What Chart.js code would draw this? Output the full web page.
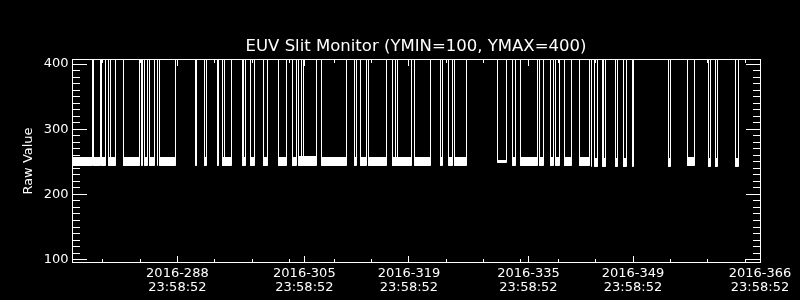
<!DOCTYPE html>
<html><head><meta charset="utf-8">
<script src="https://cdn.jsdelivr.net/npm/chart.js@4.4.1/dist/chart.umd.min.js"></script>
<style>html,body{margin:0;padding:0;background:#000;overflow:hidden}#wrap{width:800px;height:300px}canvas{display:block;background:#000}</style>
</head><body><div id="wrap"><canvas id="c" width="800" height="300"></canvas></div>
<script>
const TITLE = 'EUV Slit Monitor (YMIN=100, YMAX=400)';
const Y_TITLE = 'Raw Value';
const xMajorDays = [288, 305, 319, 335, 349, 366];
const xMajorDate = ['2016-288', '2016-305', '2016-319', '2016-335', '2016-349', '2016-366'];
const xMajorTime = ['23:58:52', '23:58:52', '23:58:52', '23:58:52', '23:58:52', '23:58:52'];
const xMinorDays = [278, 283, 293, 298, 303, 309, 314, 324, 329, 334, 339, 344, 354, 359, 364];
const yMajor = [100, 200, 300, 400];
const yMinorStep = 10;
const xRange = [273.89, 366.0];
const yRange = [94.8, 407.7];

// periods when the reading sits in the ~250 band (day of year 2016)
const lowStart = [273.89, 276.79, 277.90, 278.84, 280.85, 283.18, 283.66, 284.20, 285.54, 290.36,
  291.66, 293.36, 294.02, 296.78, 297.85, 299.55, 301.60, 303.40, 304.24, 307.23,
  311.70, 312.58, 313.61, 316.83, 319.81, 323.16, 324.23, 325.13, 330.79, 332.80,
  333.87, 336.47, 337.98, 338.61, 339.76, 341.77, 343.87, 344.85, 346.59, 347.66,
  348.87, 353.78, 356.32, 359.13, 360.03, 362.75];
const lowEnd = [276.57, 277.69, 278.31, 279.78, 282.99, 283.39, 283.98, 285.00, 287.68, 290.62,
  291.96, 293.57, 295.18, 297.14, 298.31, 300.00, 302.67, 304.01, 306.56, 310.63,
  311.97, 313.30, 316.02, 319.28, 321.82, 323.52, 324.86, 326.73, 332.09, 333.20,
  336.15, 336.95, 338.29, 339.14, 340.83, 343.20, 344.18, 345.30, 346.86, 348.12,
  349.09, 354.01, 357.17, 359.36, 360.34, 363.15];
const bandTop = [257, 257, 257, 257, 257, 256, 256, 257, 257, 256, 256, 256, 257, 256, 256, 256, 257, 257, 258, 257,
  256, 256, 257, 257, 257, 256, 257, 257, 252, 256, 257, 256, 256, 256, 257, 257, 255, 255, 255, 255,
  255, 255, 256, 255, 255, 255];
const bandBottom = [245, 245, 245, 245, 244, 245, 245, 245, 244, 244, 244, 245, 245, 245, 245, 245, 245, 245, 245, 245,
  245, 245, 245, 245, 245, 244, 244, 245, 249, 245, 245, 244, 244, 244, 245, 245, 243, 243, 243, 243,
  243, 243, 244, 243, 243, 243];
// brief single-sample excursions
const spikeDay = [279.03, 285.27, 294.24, 296.88, 304.55, 304.82, 317.19, 317.45, 343.38, 345.08];
const HIGH = 450;      // off-scale reading (above plot top)
const lastDay = 366.0;

const upper = [], lower = [];
function add(x, u, l) { upper.push({x: x, y: u}); lower.push({x: x, y: l}); }
let s = 0;
for (let i = 0; i < lowStart.length; i++) {
  const t = bandTop[i], b = bandBottom[i];
  while (s < spikeDay.length && spikeDay[s] < lowStart[i]) {
    const d = spikeDay[s++]; add(d, HIGH, HIGH); add(d, t, b); add(d, HIGH, HIGH);
  }
  if (i > 0) add(lowStart[i], HIGH, HIGH);
  add(lowStart[i], t, b);
  while (s < spikeDay.length && spikeDay[s] < lowEnd[i]) {
    const d = spikeDay[s++]; add(d, t, b); add(d, HIGH, HIGH); add(d, t, b);
  }
  add(lowEnd[i], t, b);
  add(lowEnd[i], HIGH, HIGH);
}
add(lastDay, HIGH, HIGH);

const FONT = 'DejaVu Sans';

const snapPlugin = {
  id: 'snap',
  afterDatasetsUpdate(chart) {
    chart.data.datasets.forEach((d, i) => {
      const meta = chart.getDatasetMeta(i);
      meta.data.forEach(p => { p.x = Math.floor(p.x) + 0.5; p.y = Math.floor(p.y) + 0.5; });
      if (meta.dataset) meta.dataset._path = undefined;
    });
  }
};

const framePlugin = {
  id: 'frame',
  afterDraw(chart) {
    const ctx = chart.ctx;
    const {left, right, top, bottom} = chart.chartArea;
    const xs = chart.scales.x, ys = chart.scales.y;
    const L = Math.round(left), R = Math.round(right), T = Math.round(top), B = Math.round(bottom) - 1;
    ctx.save();
    ctx.fillStyle = '#fff';
    ctx.fillRect(L, T, R - L + 1, 1);
    ctx.fillRect(L, B, R - L + 1, 1);
    ctx.fillRect(L, T, 1, B - T + 1);
    ctx.fillRect(R, T, 1, B - T + 1);
    const xt = (v, len) => {
      const px = Math.floor(xs.getPixelForValue(v));
      ctx.fillRect(px, B - len, 1, len);
      ctx.fillRect(px, T + 1, 1, len);
    };
    xMajorDays.forEach(v => xt(v, 6));
    xMinorDays.forEach(v => xt(v, 3));
    const yt = (v, len) => {
      const py = Math.floor(ys.getPixelForValue(v));
      ctx.fillRect(L + 1, py, len, 1);
      ctx.fillRect(R - len, py, len, 1);
    };
    for (let v = yMajor[0]; v <= yMajor[yMajor.length - 1]; v += yMinorStep) {
      if (yMajor.indexOf(v) < 0) yt(v, 7);
    }
    yMajor.forEach(v => yt(v, 14));
    // title centred over the plot area
    ctx.font = 'normal 16.5px "' + FONT + '"';
    ctx.textAlign = 'center';
    ctx.textBaseline = 'middle';
    ctx.fillText(TITLE, (left + right) / 2, 47);
    ctx.restore();
  }
};

Chart.defaults.color = '#fff';
new Chart(document.getElementById('c'), {
  type: 'line',
  data: {
    datasets: [
      {label: 'upper', data: upper, borderColor: '#fff', borderWidth: 1, pointRadius: 0, tension: 0,
        fill: '+1', backgroundColor: '#fff', clip: 0},
      {label: 'lower', data: lower, borderColor: '#fff', borderWidth: 1, pointRadius: 0, tension: 0,
        fill: false, clip: 0}
    ]
  },
  options: {
    responsive: false, animation: false, devicePixelRatio: 1, events: [],
    layout: {padding: {left: 0, right: 40, top: 59, bottom: 0}},
    plugins: {
      legend: {display: false}, tooltip: {enabled: false}, title: {display: false}
    },
    scales: {
      x: {
        type: 'linear', min: xRange[0], max: xRange[1],
        afterBuildTicks: (sc) => { sc.ticks = xMajorDays.map(v => ({value: v})); },
        afterFit: (sc) => { sc.height = 37; },
        grid: {display: false, drawTicks: false}, border: {display: false},
        ticks: {autoSkip: false, maxRotation: 0, minRotation: 0, padding: 3.5, color: '#fff',
          font: {family: FONT, size: 13, lineHeight: 1.1},
          callback: (v) => { const i = xMajorDays.indexOf(v); return [xMajorDate[i], xMajorTime[i]]; }}
      },
      y: {
        type: 'linear', min: yRange[0], max: yRange[1],
        afterBuildTicks: (sc) => { sc.ticks = yMajor.map(v => ({value: v})); },
        afterFit: (sc) => { sc.width = 72; },
        grid: {display: false, drawTicks: false}, border: {display: false},
        ticks: {padding: 3.5, color: '#fff', font: {family: FONT, size: 13}, callback: (v) => String(v)},
        title: {display: true, text: Y_TITLE, color: '#fff', font: {family: FONT, size: 13, lineHeight: 1.2},
          padding: {top: 21.2, bottom: 0}}
      }
    }
  },
  plugins: [snapPlugin, framePlugin]
});
</script></body></html>
